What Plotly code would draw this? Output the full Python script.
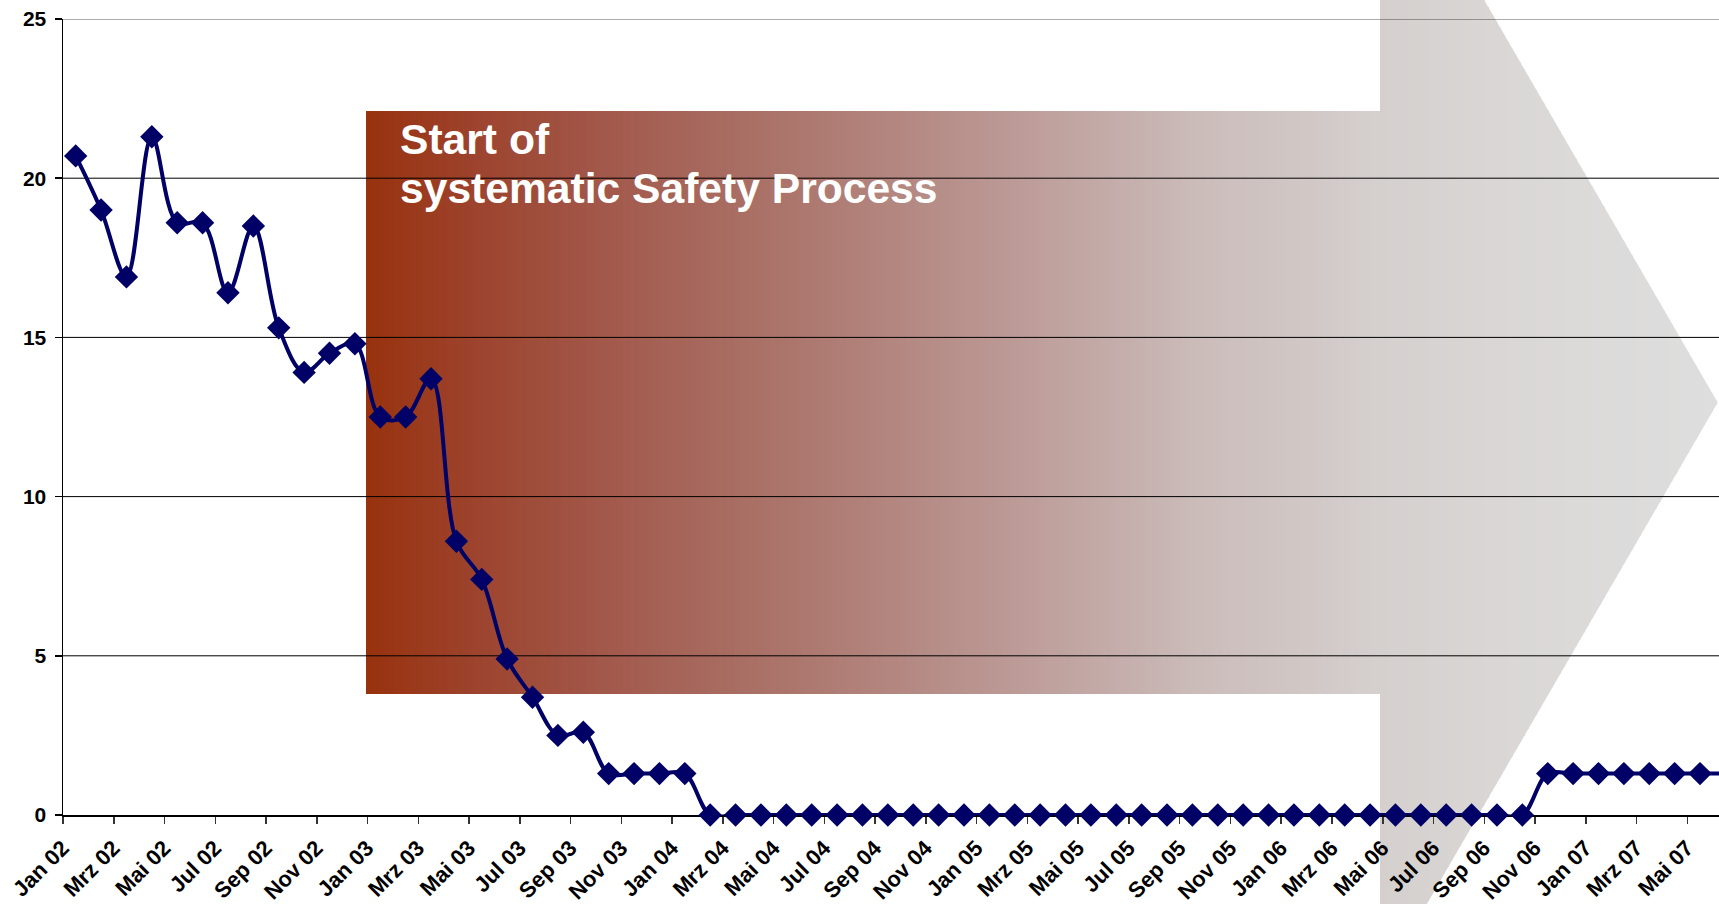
import plotly.graph_objects as go

# ---------------- data ----------------
months = [
    "Jan 02", "Feb 02", "Mrz 02", "Apr 02", "Mai 02", "Jun 02", "Jul 02", "Aug 02", "Sep 02", "Okt 02", "Nov 02", "Dez 02",
    "Jan 03", "Feb 03", "Mrz 03", "Apr 03", "Mai 03", "Jun 03", "Jul 03", "Aug 03", "Sep 03", "Okt 03", "Nov 03", "Dez 03",
    "Jan 04", "Feb 04", "Mrz 04", "Apr 04", "Mai 04", "Jun 04", "Jul 04", "Aug 04", "Sep 04", "Okt 04", "Nov 04", "Dez 04",
    "Jan 05", "Feb 05", "Mrz 05", "Apr 05", "Mai 05", "Jun 05", "Jul 05", "Aug 05", "Sep 05", "Okt 05", "Nov 05", "Dez 05",
    "Jan 06", "Feb 06", "Mrz 06", "Apr 06", "Mai 06", "Jun 06", "Jul 06", "Aug 06", "Sep 06", "Okt 06", "Nov 06", "Dez 06",
    "Jan 07", "Feb 07", "Mrz 07", "Apr 07", "Mai 07", "Jun 07",
]
values = [
    20.7, 19.0, 16.9, 21.3, 18.6, 18.6, 16.4, 18.5, 15.3, 13.9, 14.5, 14.8,
    12.5, 12.5, 13.7, 8.6, 7.4, 4.9, 3.7, 2.5, 2.6, 1.3, 1.3, 1.3,
    1.3, 0, 0, 0, 0, 0, 0, 0, 0, 0, 0, 0,
    0, 0, 0, 0, 0, 0, 0, 0, 0, 0, 0, 0,
    0, 0, 0, 0, 0, 0, 0, 0, 0, 0, 1.3, 1.3,
    1.3, 1.3, 1.3, 1.3, 1.3, 1.3,
]
tick_labels = months[::2]
y_ticks = [0, 5, 10, 15, 20, 25]
grid_values = [5, 10, 15, 20]

label_line1 = "Start of"
label_line2 = "systematic Safety Process"

# ---------------- geometry ----------------
W, H = 1719, 904
ML, MR, MT, MB = 63, 0, 19, 87
PW, PH = W - ML - MR, H - MT - MB
CAT_W = 25.38  # pixels per month
x_range = [-0.5, -0.5 + PW / CAT_W]


def px_x(px):
    return (px - ML) / PW


def px_y(py):
    return (H - MB - py) / PH


# gradient stops (pixel x, rgb)
stops = [
    (366, (152, 50, 14)),
    (480, (157, 68, 47)),
    (620, (163, 91, 78)),
    (800, (172, 119, 110)),
    (1000, (187, 152, 148)),
    (1200, (203, 188, 186)),
    (1380, (213, 208, 206)),
    (1550, (219, 217, 216)),
    (1720, (222, 222, 222)),
]


def color_at(x):
    for (x0, c0), (x1, c1) in zip(stops[:-1], stops[1:]):
        if x <= x1:
            t = max(0.0, min(1.0, (x - x0) / (x1 - x0)))
            return "rgb(%d,%d,%d)" % tuple(round(a + (b - a) * t) for a, b in zip(c0, c1))
    return "rgb(%d,%d,%d)" % stops[-1][1]


SHAFT_L, SHAFT_T, SHAFT_B = 366, 111.3, 695.7
HEAD_X, TIP_X, TIP_Y = 1380, 1717.7, 403.5
SLOPE = 1.728


def extent(x):
    if x <= HEAD_X:
        return SHAFT_T, SHAFT_B
    hh = max(0.0, (TIP_X - x) * SLOPE)
    return TIP_Y - hh, TIP_Y + hh


shapes = []
step = 4
x = SHAFT_L
while x < TIP_X:
    xa = x
    xb = min(x + step, TIP_X)
    if xa < HEAD_X < xb:
        xb = HEAD_X
    ta, ba = extent(xa + 1e-6 if xa >= HEAD_X else xa)
    xb_draw = min(xb + 0.7, TIP_X)
    tb, bb = extent(xb_draw) if xb >= HEAD_X and xa >= HEAD_X else extent(xb)
    path = "M %f,%f L %f,%f L %f,%f L %f,%f Z" % (
        px_x(xa), px_y(ta), px_x(xb_draw), px_y(tb), px_x(xb_draw), px_y(bb), px_x(xa), px_y(ba)
    )
    shapes.append(dict(type="path", path=path, xref="paper", yref="paper", layer="below",
                       fillcolor=color_at((xa + xb) / 2), line=dict(width=0)))
    x = xb

# grid lines drawn above the arrow, below the data
for gv in grid_values:
    shapes.append(dict(type="line", xref="paper", yref="y", x0=0, x1=1, y0=gv, y1=gv,
                       layer="below", line=dict(color="black", width=1)))
shapes.append(dict(type="line", xref="paper", yref="y", x0=0, x1=1, y0=25, y1=25,
                   layer="below", line=dict(color="rgba(0,0,0,0.32)", width=2)))

fig = go.Figure()
fig.add_trace(go.Scatter(
    x=list(range(len(values))), y=values, mode="lines+markers",
    line=dict(color="#000066", width=4, shape="spline", smoothing=1),
    marker=dict(symbol="diamond", size=18, color="#000066"),
    cliponaxis=False, showlegend=False, hoverinfo="skip",
))

font_family = "Liberation Sans, Arial, sans-serif"
annotations = [
    dict(text=label_line1, xref="paper", yref="paper", x=px_x(397.5), y=px_y(139.4),
         xanchor="left", yanchor="middle", showarrow=False,
         font=dict(family=font_family, size=42.6, color="white", weight="bold")),
    dict(text=label_line2, xref="paper", yref="paper", x=px_x(397.5), y=px_y(188.4),
         xanchor="left", yanchor="middle", showarrow=False,
         font=dict(family=font_family, size=42.6, color="white", weight="bold")),
]

fig.update_layout(
    width=W, height=H,
    margin=dict(l=ML, r=MR, t=MT, b=MB, pad=0),
    paper_bgcolor="white", plot_bgcolor="rgba(0,0,0,0)",
    shapes=shapes, annotations=annotations,
    font=dict(family=font_family, color="black"),
    xaxis=dict(
        range=x_range, showgrid=False, zeroline=False,
        showline=True, linecolor="black", linewidth=1.5, layer="below traces",
        tickmode="array", tickvals=list(range(0, len(months), 2)), ticktext=tick_labels,
        ticks="", tickangle=-45, ticklabelstandoff=10, ticklabelshift=-13,
        tickfont=dict(family=font_family, size=22, color="black", weight="bold"),
        minor=dict(tickmode="array", tickvals=[i - 0.5 for i in range(0, len(months) + 1, 2)],
                   ticks="outside", ticklen=7, tickwidth=1.5, tickcolor="#333333", showgrid=False),
    ),
    yaxis=dict(
        range=[0, 25], showgrid=False, zeroline=False,
        showline=True, linecolor="black", linewidth=1.5, layer="below traces",
        tickmode="array", tickvals=y_ticks,
        ticks="outside", ticklen=7, tickwidth=1.5, tickcolor="black", ticklabelstandoff=4,
        tickfont=dict(family=font_family, size=21, color="black", weight="bold"),
    ),
)

fig.write_html(
    "out.html",
    config={"displayModeBar": False, "staticPlot": True},
    post_script="document.body.style.margin='0';document.body.style.overflow='hidden';",
)
